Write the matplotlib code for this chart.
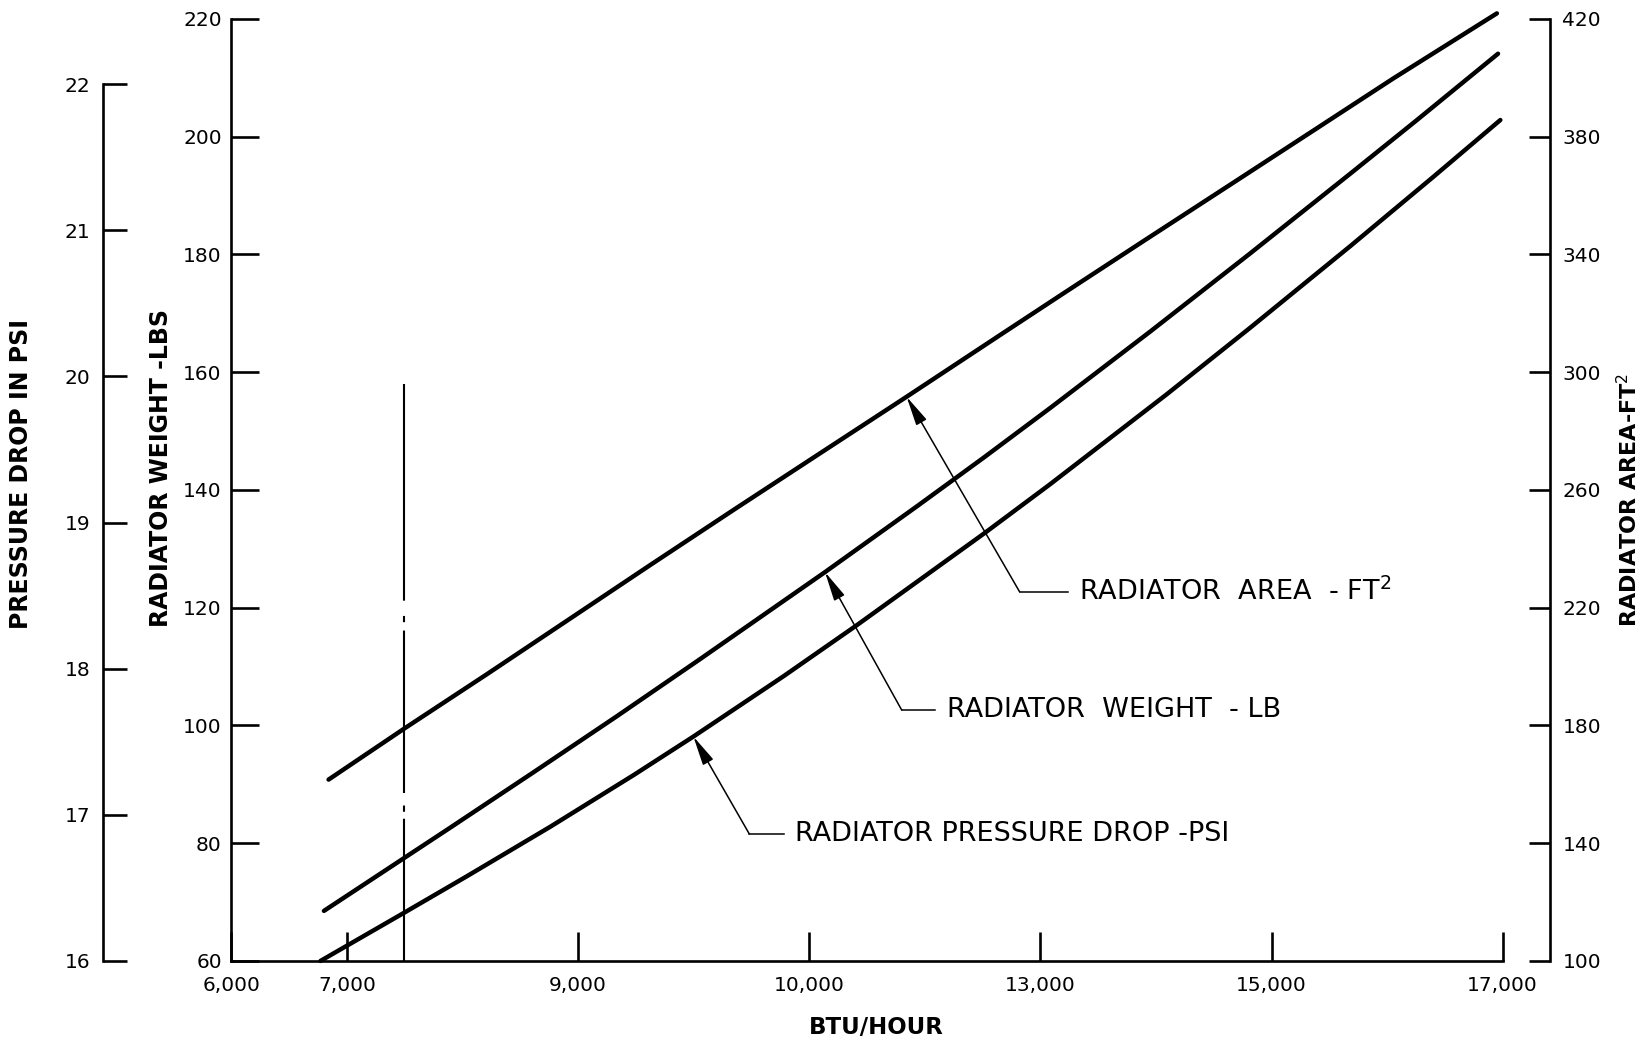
import numpy as np
import matplotlib.pyplot as plt

# curves (BTU/hour on x)
btu_area = [6840, 7490, 8210, 8900, 9620, 10340, 11060, 11840, 12650, 13200,
            13890, 14670, 15390, 16050, 16950]
area_ft2 = [161.6, 178.8, 197.4, 215.5, 234.4, 253.1, 271.6, 291.6, 312.6, 326.8,
            344.5, 364.4, 382.8, 399.7, 421.9]

btu_weight = [6800, 7480, 7890, 8610, 9330, 10050, 11140, 11930, 12510, 13090,
              13950, 14810, 15680, 16250, 16960]
weight_lb = [68.5, 77.3, 82.6, 92.0, 101.5, 111.2, 126.1, 137.2, 145.5, 154.0,
             166.9, 180.1, 193.7, 202.7, 214.1]

btu_press = [6770, 7490, 8040, 8760, 9480, 10000, 10780, 11410, 12510, 13080,
             14090, 14810, 15680, 16400, 16980]
press_psi = [16.0, 16.328, 16.581, 16.919, 17.272, 17.537, 17.950, 18.297, 18.924,
             19.260, 19.876, 20.330, 20.891, 21.366, 21.755]

# axis ticks (x labels are as printed on the original)
x_ticks = [6000, 7000, 9000, 11000, 13000, 15000, 17000]
x_labels = ['6,000', '7,000', '9,000', '10,000', '13,000', '15,000', '17,000']
weight_ticks = list(range(60, 221, 20))
area_ticks = list(range(100, 421, 40))
press_ticks = list(range(16, 23))

# vertical reference line
ref_btu = 7490
ref_weight = (60, 158)

plt.rcParams['font.family'] = ['DejaVu Sans']
plt.rcParams['lines.scale_dashes'] = False

fig = plt.figure(figsize=(16.5, 10.42), dpi=100)
ax = fig.add_axes([0.1403, 0.0778, 0.7704, 0.904])
ax_a = ax.twinx()
ax_p = ax.twinx()

lw_spine = 1.9
tick_fs = 14.5
label_fs = 17
curve = dict(color='black', lw=3.2, solid_capstyle='round', solid_joinstyle='round',
             clip_on=False)

# main (weight) axis
ax.set_xlim(6000, 17000)
ax.set_ylim(60, 220)
ax.plot(btu_weight, weight_lb, **curve)
ax.set_xticks(x_ticks)
ax.set_xticklabels(x_labels)
ax.set_yticks(weight_ticks)
ax.spines['top'].set_visible(False)
ax.spines['right'].set_visible(False)
for s in ['left', 'bottom']:
    ax.spines[s].set_linewidth(lw_spine)
ax.tick_params(axis='x', direction='in', length=21, width=lw_spine, labelsize=tick_fs, pad=11)
ax.tick_params(axis='y', direction='in', length=20, width=lw_spine, labelsize=tick_fs, pad=7)
ax.set_xlabel('BTU/HOUR', fontsize=16.5, fontweight='bold')
ax.xaxis.set_label_coords(0.507, -0.058)
ax.set_ylabel('RADIATOR WEIGHT -LBS', fontsize=label_fs, fontweight='bold')
ax.yaxis.set_label_coords(-0.046, 0.523)

# dash-dot reference line
ax.plot([ref_btu, ref_btu], [ref_weight[1], ref_weight[0]], color='black', lw=1.5,
        linestyle=(0, (156, 11, 4.5, 6, 117, 9, 4.5, 5, 300, 1)))

# area axis on the right
ax_a.set_ylim(100, 420)
ax_a.plot(btu_area, area_ft2, **curve)
ax_a.set_yticks(area_ticks)
for s in ['top', 'left', 'bottom']:
    ax_a.spines[s].set_visible(False)
ax_a.spines['right'].set_position(('outward', 34))
ax_a.spines['right'].set_linewidth(lw_spine)
ax_a.tick_params(axis='y', direction='in', length=15, width=lw_spine, labelsize=tick_fs, pad=9)
ax_a.set_ylabel('RADIATOR AREA-FT$^2$', fontsize=16, fontweight='bold')
ax_a.yaxis.set_label_coords(1.089, 0.489)

# pressure axis, outer left
ax_p.set_ylim(16, 16 + 6 * 895 / 833)
ax_p.plot(btu_press, press_psi, **curve)
ax_p.set_yticks(press_ticks)
for s in ['top', 'right', 'bottom']:
    ax_p.spines[s].set_visible(False)
ax_p.spines['left'].set_visible(True)
ax_p.spines['left'].set_position(('axes', -0.101))
ax_p.spines['left'].set_bounds(16, 22)
ax_p.spines['left'].set_linewidth(lw_spine)
ax_p.yaxis.set_ticks_position('left')
ax_p.yaxis.set_label_position('left')
ax_p.tick_params(axis='y', direction='in', length=17, width=lw_spine, labelsize=tick_fs, pad=9)
ax_p.set_ylabel('PRESSURE DROP IN PSI', fontsize=label_fs, fontweight='bold')
ax_p.yaxis.set_label_coords(-0.156, 0.517)

# labelled leaders: (axis, x of arrow tip, curve x, curve y, elbow x, end x, text x, y on weight scale, text)
leaders = [
    (ax_a, 11842, btu_area, area_ft2, 12820, 13240, 13330, 122.7, 'RADIATOR  AREA  - FT$^2$'),
    (ax, 11136, btu_weight, weight_lb, 11800, 12090, 12190, 102.6, 'RADIATOR  WEIGHT  - LB'),
    (ax_p, 9997, btu_press, press_psi, 10480, 10781, 10872, 81.6, 'RADIATOR PRESSURE DROP -PSI'),
]
for axis, tip_x, xs, ys, ex, hx, tx, ty, label in leaders:
    tip = (tip_x, np.interp(tip_x, xs, ys))
    axis.annotate('', xy=tip, xytext=(ex, ty), textcoords=ax.transData,
                  arrowprops=dict(arrowstyle='-|>,head_length=0.9,head_width=0.18',
                                  mutation_scale=20, lw=1.1, color='black',
                                  shrinkA=0, shrinkB=0))
    ax.plot([ex, hx], [ty, ty], color='black', lw=1.1)
    ax.text(tx, ty, label, fontsize=19.5, va='center', ha='left')

fig.savefig('out.png', dpi=100)
